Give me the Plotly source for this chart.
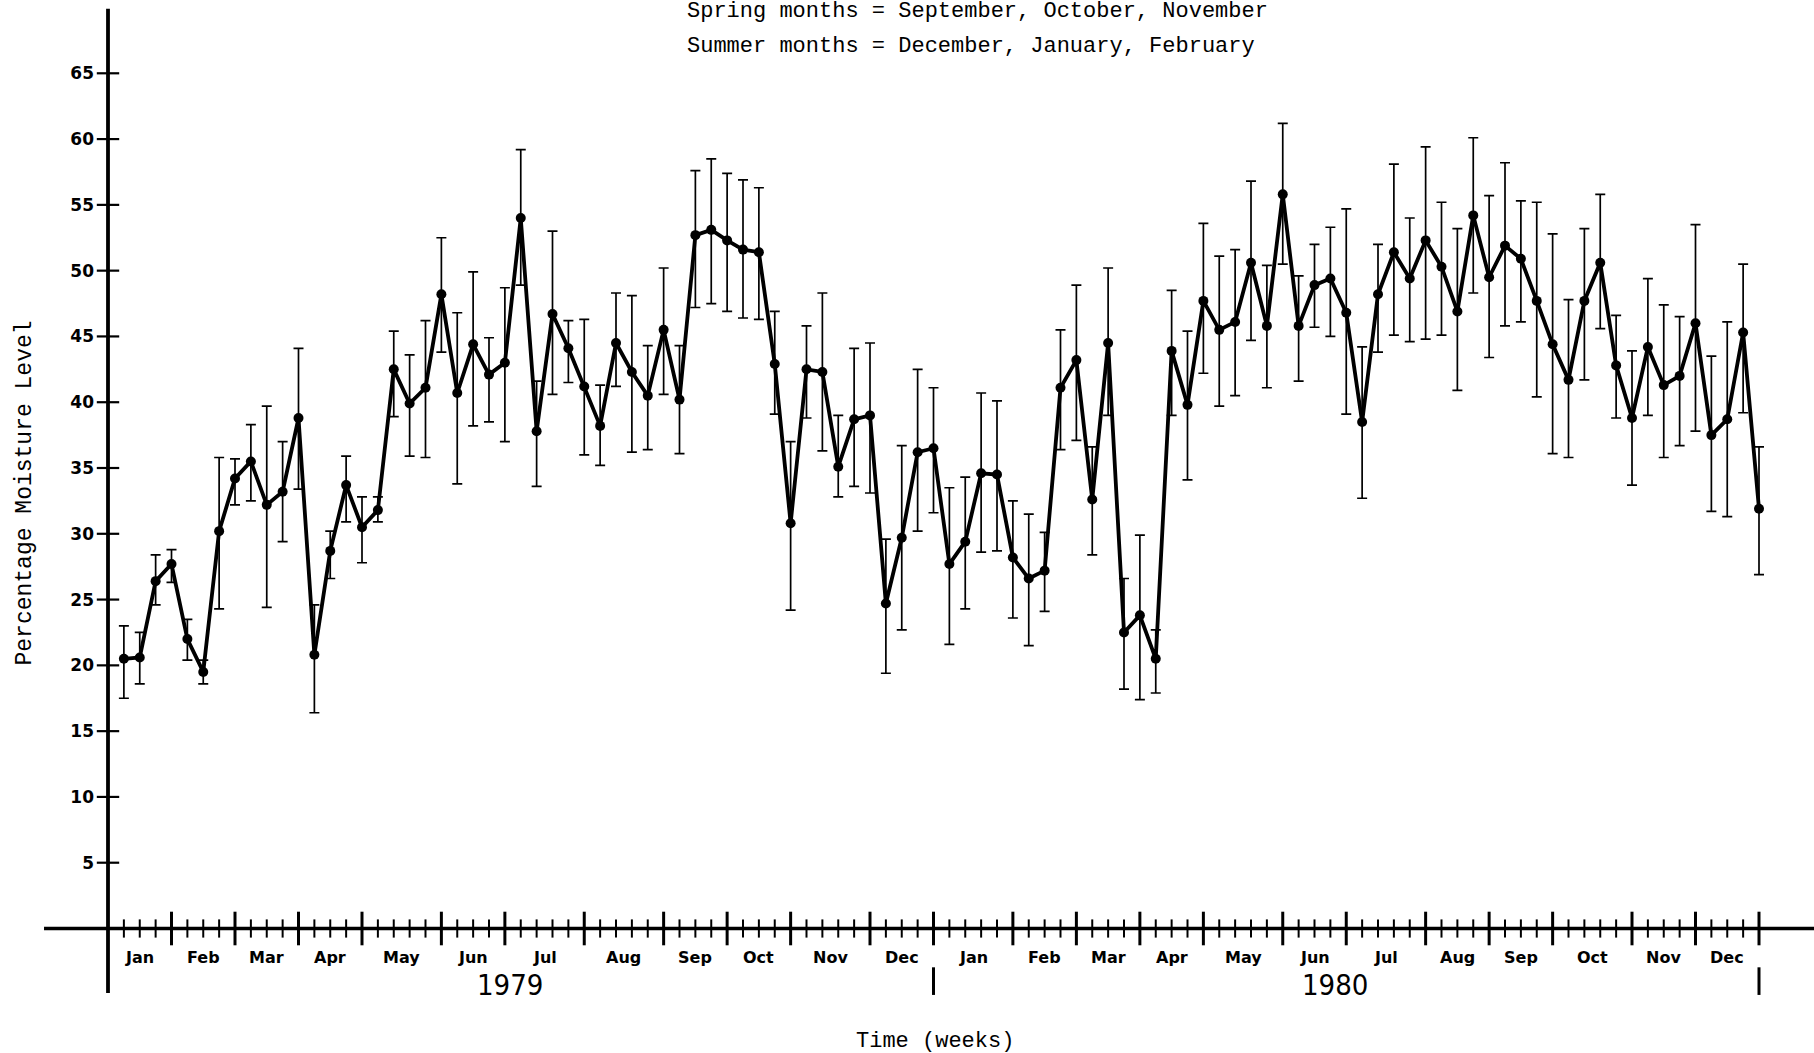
import plotly.graph_objects as go

# ---------------- data ----------------
weeks = list(range(1, 105))

moisture = [
    20.5, 20.6, 26.4, 27.7, 22.0, 19.5, 30.2, 34.2, 35.5, 32.2, 33.2, 38.8, 20.8,
    28.7, 33.7, 30.5, 31.8, 42.5, 39.9, 41.1, 48.2, 40.7, 44.4, 42.1, 43.0, 54.0,
    37.8, 46.7, 44.1, 41.2, 38.2, 44.5, 42.3, 40.5, 45.5, 40.2, 52.7, 53.1, 52.3,
    51.6, 51.4, 42.9, 30.8, 42.5, 42.3, 35.1, 38.7, 39.0, 24.7, 29.7, 36.2, 36.5,
    27.7, 29.4, 34.6, 34.5, 28.2, 26.6, 27.2, 41.1, 43.2, 32.6, 44.5, 22.5, 23.8,
    20.5, 43.9, 39.8, 47.7, 45.5, 46.1, 50.6, 45.8, 55.8, 45.8, 48.9, 49.4, 46.8,
    38.5, 48.2, 51.4, 49.4, 52.3, 50.3, 46.9, 54.2, 49.5, 51.9, 50.9, 47.7, 44.4,
    41.7, 47.7, 50.6, 42.8, 38.8, 44.2, 41.3, 42.0, 46.0, 37.5, 38.7, 45.3, 31.9,
]

upper = [
    23.0, 22.5, 28.4, 28.8, 23.5, 20.4, 35.8, 35.7, 38.3, 39.7, 37.0, 44.1, 24.6,
    30.2, 35.9, 32.8, 32.8, 45.4, 43.6, 46.2, 52.5, 46.8, 49.9, 44.9, 48.7, 59.2,
    41.6, 53.0, 46.2, 46.3, 41.3, 48.3, 48.1, 44.3, 50.2, 44.3, 57.6, 58.5, 57.4,
    56.9, 56.3, 46.9, 37.0, 45.8, 48.3, 39.0, 44.1, 44.5, 29.6, 36.7, 42.5, 41.1,
    33.5, 34.3, 40.7, 40.1, 32.5, 31.5, 30.1, 45.5, 48.9, 36.6, 50.2, 26.6, 29.9,
    22.7, 48.5, 45.4, 53.6, 51.1, 51.6, 56.8, 50.4, 61.2, 49.6, 52.0, 53.3, 54.7,
    44.2, 52.0, 58.1, 54.0, 59.4, 55.2, 53.2, 60.1, 55.7, 58.2, 55.3, 55.2, 52.8,
    47.8, 53.2, 55.8, 46.6, 43.9, 49.4, 47.4, 46.5, 53.5, 43.5, 46.1, 50.5, 36.6,
]

lower = [
    17.5, 18.6, 24.6, 26.3, 20.4, 18.6, 24.3, 32.2, 32.5, 24.4, 29.4, 33.4, 16.4,
    26.6, 30.9, 27.8, 30.9, 38.9, 35.9, 35.8, 43.8, 33.8, 38.2, 38.5, 37.0, 48.9,
    33.6, 40.6, 41.5, 36.0, 35.2, 41.2, 36.2, 36.4, 40.6, 36.1, 47.2, 47.5, 46.9,
    46.4, 46.3, 39.1, 24.2, 38.8, 36.3, 32.8, 33.6, 33.1, 19.4, 22.7, 30.2, 31.6,
    21.6, 24.3, 28.6, 28.7, 23.6, 21.5, 24.1, 36.4, 37.1, 28.4, 39.0, 18.2, 17.4,
    17.9, 39.0, 34.1, 42.2, 39.7, 40.5, 44.7, 41.1, 50.5, 41.6, 45.7, 45.0, 39.1,
    32.7, 43.8, 45.1, 44.6, 44.8, 45.1, 40.9, 48.3, 43.4, 45.8, 46.1, 40.4, 36.1,
    35.8, 41.7, 45.6, 38.8, 33.7, 39.0, 35.8, 36.7, 37.8, 31.7, 31.3, 39.2, 26.9,
]

month_names = ["Jan", "Feb", "Mar", "Apr", "May", "Jun",
               "Jul", "Aug", "Sep", "Oct", "Nov", "Dec"] * 2
month_bounds = [0, 4, 8, 12, 16, 21, 25, 30, 35, 39, 43, 48,
                52, 57, 61, 65, 69, 74, 78, 83, 87, 91, 96, 100, 104]
year_names = ["1979", "1980"]
year_bounds = [0, 52, 104]
y_ticks = [5, 10, 15, 20, 25, 30, 35, 40, 45, 50, 55, 60, 65]

# ---------------- layout geometry ----------------
W, H = 1814, 1053
X0, PXW = 108.0, 15.875      # pixel of week 0, pixels per week
Y0, PXU = 928.5, 13.157      # pixel of value 0, pixels per unit
x_range = [-X0 / PXW, (W - X0) / PXW]
y_range = [-(H - Y0) / PXU, Y0 / PXU]

mono = "Courier New, Nimbus Mono PS, Liberation Mono, monospace"
boldsans = "DejaVu Sans, Arial, sans-serif"
narrow = "DejaVu Sans Condensed, Liberation Sans Narrow, Arial Narrow, Liberation Sans, sans-serif"

plus = [u - m for u, m in zip(upper, moisture)]
minus = [m - l for m, l in zip(moisture, lower)]

fig = go.Figure()

# weekly minor ticks and month ticks on the time axis
minor_weeks = [w for w in range(1, 104) if w not in month_bounds]
fig.add_trace(go.Scatter(
    x=minor_weeks, y=[0] * len(minor_weeks), mode="markers", hoverinfo="skip",
    marker=dict(symbol="line-ns", size=13, line=dict(color="black", width=2)),
    showlegend=False))
fig.add_trace(go.Scatter(
    x=month_bounds[1:], y=[0] * (len(month_bounds) - 1), mode="markers", hoverinfo="skip",
    marker=dict(symbol="line-ns", size=24, line=dict(color="black", width=3)),
    showlegend=False))
# y tick marks crossing the axis
fig.add_trace(go.Scatter(
    x=[0] * len(y_ticks), y=y_ticks, mode="markers", hoverinfo="skip",
    marker=dict(symbol="line-ew", size=16, line=dict(color="black", width=2.2)),
    showlegend=False))

# data series with error bars
fig.add_trace(go.Scatter(
    x=weeks, y=moisture, mode="lines+markers",
    line=dict(color="black", width=3.8),
    marker=dict(color="black", size=10),
    error_y=dict(type="data", symmetric=False, array=plus, arrayminus=minus,
                 color="black", thickness=1.7, width=5),
    showlegend=False))

shapes = [
    # x axis line
    dict(type="line", xref="x", yref="y", x0=-4.03, x1=x_range[1], y0=0, y1=0,
         line=dict(color="black", width=3.5)),
    # y axis line (continues down as first year separator)
    dict(type="line", xref="x", yref="y", x0=0, x1=0, y0=-4.9, y1=69.9,
         line=dict(color="black", width=3.8)),
]
for b in year_bounds[1:]:
    shapes.append(dict(type="line", xref="x", yref="y", x0=b, x1=b, y0=-2.95, y1=-5.05,
                       line=dict(color="black", width=3)))

annotations = []
for i, name in enumerate(month_names):
    annotations.append(dict(
        x=(month_bounds[i] + month_bounds[i + 1]) / 2, y=-2.17, xref="x", yref="y",
        text=name, showarrow=False, xanchor="center", yanchor="middle",
        font=dict(family=boldsans, size=16, color="black", weight="bold")))
for i, name in enumerate(year_names):
    annotations.append(dict(
        x=(year_bounds[i] + year_bounds[i + 1]) / 2, y=-4.3, xref="x", yref="y",
        xshift=-11, text=name, showarrow=False, xanchor="center", yanchor="middle",
        font=dict(family=narrow, size=29, color="black")))

annotations += [
    dict(x=685 / W, y=1 - 11 / H, xref="paper", yref="paper", xanchor="left", yanchor="middle",
         text="Spring months = September, October, November", showarrow=False,
         font=dict(family=mono, size=22, color="black")),
    dict(x=685 / W, y=1 - 46.5 / H, xref="paper", yref="paper", xanchor="left", yanchor="middle",
         text="Summer months = December, January, February", showarrow=False,
         font=dict(family=mono, size=22, color="black")),
    dict(x=24.5 / W, y=1 - 493 / H, xref="paper", yref="paper", xanchor="center", yanchor="middle",
         text="Percentage Moisture Level", textangle=-90, showarrow=False,
         font=dict(family=mono, size=23, color="black")),
    dict(x=935 / W, y=1 - 1041 / H, xref="paper", yref="paper", xanchor="center", yanchor="middle",
         text="Time (weeks)", showarrow=False,
         font=dict(family=mono, size=22, color="black")),
]

fig.update_layout(
    width=W, height=H,
    margin=dict(l=0, r=0, t=0, b=0, pad=0),
    paper_bgcolor="white", plot_bgcolor="white",
    showlegend=False,
    xaxis=dict(range=x_range, visible=False, showgrid=False, zeroline=False, fixedrange=True),
    yaxis=dict(range=y_range, showgrid=False, zeroline=False, showline=False,
               tickmode="array", tickvals=y_ticks, ticktext=[str(v) for v in y_ticks],
               ticks="", anchor="free", position=X0 / W, side="left",
               ticklabelstandoff=14, automargin=False,
               tickfont=dict(family=boldsans, size=17, color="black", weight="bold")),
    shapes=shapes,
    annotations=annotations,
)

fig.write_html("out.html")
